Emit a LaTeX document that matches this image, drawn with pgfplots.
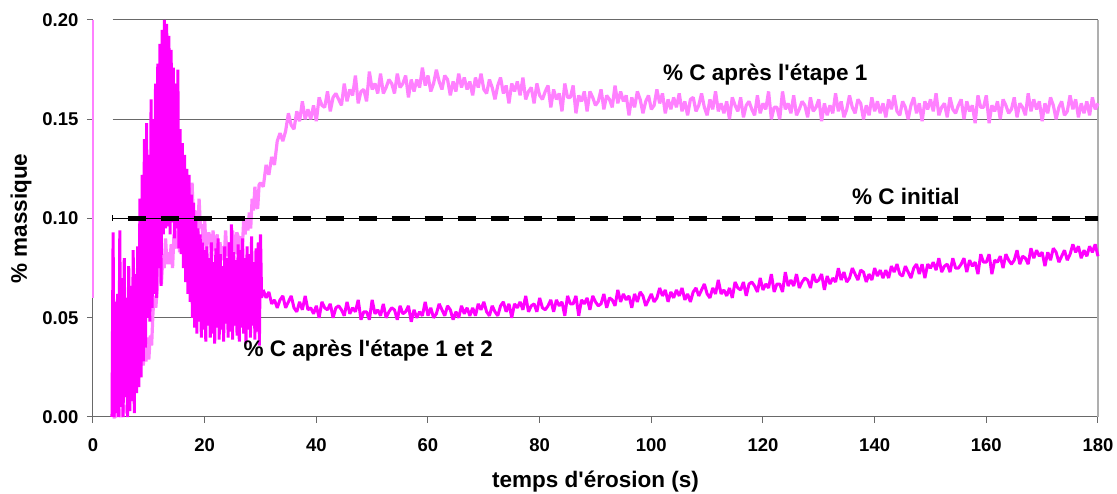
\documentclass[border=0pt]{standalone}
\usepackage{fontspec}
\setmainfont{Liberation Sans}
\usepackage{pgfplots}
\usepackage{pgfplotstable}
\pgfplotsset{compat=1.18}
\definecolor{pinkA}{RGB}{255,128,255}
\definecolor{magA}{RGB}{255,0,255}
\definecolor{gridg}{RGB}{105,105,105}
\definecolor{borderg}{RGB}{175,175,175}

\pgfplotstableread{
t y
3.5 0
4.0 0
4.5 0.006
5.0 0
5.5 0.006
6.0 0.002
6.5 0.013
7.0 0.019
7.5 0.015
8.0 0.022
8.5 0.031
9.0 0.026
9.25 0.033
9.5 0.028
9.75 0.040
10.0 0.029
10.25 0.041
10.5 0.036
10.75 0.053
11.0 0.061
11.25 0.055
11.5 0.064
11.75 0.077
12.0 0.071
12.25 0.067
12.5 0.080
12.75 0.075
13.0 0.090
13.25 0.077
13.5 0.083
13.75 0.077
14.0 0.087
14.25 0.075
14.5 0.092
14.75 0.087
15.0 0.085
15.25 0.096
15.5 0.083
15.75 0.092
16.0 0.097
16.25 0.094
16.5 0.091
16.75 0.108
17.0 0.097
17.25 0.106
17.5 0.104
17.75 0.118
18.0 0.097
18.25 0.104
18.5 0.102
18.75 0.091
19.0 0.110
19.25 0.095
19.5 0.097
19.75 0.088
20.0 0.100
20.25 0.084
20.5 0.088
20.75 0.093
21.0 0.089
21.25 0.081
21.5 0.094
21.75 0.084
22.0 0.086
22.25 0.092
22.5 0.075
22.75 0.088
23.0 0.079
23.25 0.086
23.5 0.080
23.75 0.094
24.0 0.081
24.25 0.088
24.5 0.078
24.75 0.084
25.0 0.094
25.25 0.086
25.5 0.082
25.75 0.093
26.0 0.091
26.25 0.080
26.5 0.091
26.75 0.085
27.0 0.100
27.25 0.092
27.5 0.100
27.75 0.094
28.0 0.103
28.25 0.095
28.5 0.110
28.75 0.104
29.0 0.116
29.25 0.106
29.5 0.105
29.75 0.117
30.0 0.118
30.5 0.116
31.0 0.127
31.5 0.122
32.0 0.131
32.5 0.127
33.0 0.139
33.5 0.143
34.0 0.139
34.5 0.144
35.0 0.153
35.5 0.147
36.0 0.145
36.5 0.154
37.0 0.149
37.5 0.159
38.0 0.150
38.5 0.155
39.0 0.150
39.5 0.157
40.0 0.149
40.5 0.161
41.0 0.157
41.5 0.156
42.0 0.164
42.5 0.154
43.0 0.161
43.5 0.163
44.0 0.160
44.5 0.157
45.0 0.168
45.5 0.159
46.0 0.165
46.5 0.162
47.0 0.172
47.5 0.158
48.0 0.164
48.5 0.165
49.0 0.159
49.5 0.174
50.0 0.165
50.5 0.168
51.0 0.163
51.5 0.173
52.0 0.163
52.5 0.166
53.0 0.170
53.5 0.168
54.0 0.163
54.5 0.173
55.0 0.166
55.5 0.168
56.0 0.172
56.5 0.161
57.0 0.170
57.5 0.164
58.0 0.170
58.5 0.166
59.0 0.176
59.5 0.167
60.0 0.172
60.5 0.164
61.0 0.168
61.5 0.175
62.0 0.169
62.5 0.165
63.0 0.172
63.5 0.170
64.0 0.162
64.5 0.169
65.0 0.164
65.5 0.173
66.0 0.166
66.5 0.171
67.0 0.165
67.5 0.169
68.0 0.162
68.5 0.171
69.0 0.166
69.5 0.173
70.0 0.165
70.5 0.163
71.0 0.170
71.5 0.166
72.0 0.160
72.5 0.167
73.0 0.171
73.5 0.163
74.0 0.167
74.5 0.158
75.0 0.168
75.5 0.164
76.0 0.169
76.5 0.162
77.0 0.171
77.5 0.160
78.0 0.164
78.5 0.166
79.0 0.158
79.5 0.168
80.0 0.162
80.5 0.160
81.0 0.164
81.5 0.167
82.0 0.156
82.5 0.165
83.0 0.160
83.5 0.163
84.0 0.154
84.5 0.168
85.0 0.161
85.5 0.161
86.0 0.167
86.5 0.153
87.0 0.162
87.5 0.159
88.0 0.164
88.5 0.154
89.0 0.164
89.5 0.161
90.0 0.157
90.5 0.159
91.0 0.165
91.5 0.155
92.0 0.162
92.5 0.160
93.0 0.156
93.5 0.167
94.0 0.158
94.5 0.164
95.0 0.159
95.5 0.162
96.0 0.152
96.5 0.161
97.0 0.156
97.5 0.164
98.0 0.160
98.5 0.153
99.0 0.159
99.5 0.162
100.0 0.155
100.5 0.157
101.0 0.165
101.5 0.158
102.0 0.163
102.5 0.153
103.0 0.160
103.5 0.155
104.0 0.161
104.5 0.156
105.0 0.163
105.5 0.154
106.0 0.159
106.5 0.152
107.0 0.160
107.5 0.161
108.0 0.154
108.5 0.157
109.0 0.163
109.5 0.156
110.0 0.152
110.5 0.160
111.0 0.155
111.5 0.164
112.0 0.154
112.5 0.158
113.0 0.153
113.5 0.159
114.0 0.150
114.5 0.161
115.0 0.157
115.5 0.154
116.0 0.161
116.5 0.151
117.0 0.157
117.5 0.159
118.0 0.155
118.5 0.152
119.0 0.162
119.5 0.153
120.0 0.158
120.5 0.155
121.0 0.164
121.5 0.150
122.0 0.156
122.5 0.156
123.0 0.150
123.5 0.164
124.0 0.155
124.5 0.158
125.0 0.153
125.5 0.162
126.0 0.152
126.5 0.155
127.0 0.159
127.5 0.157
128.0 0.151
128.5 0.161
129.0 0.154
129.5 0.156
130.0 0.160
130.5 0.149
131.0 0.158
131.5 0.152
132.0 0.157
132.5 0.153
133.0 0.163
133.5 0.154
134.0 0.159
134.5 0.151
135.0 0.155
135.5 0.162
136.0 0.156
136.5 0.153
137.0 0.160
137.5 0.158
138.0 0.150
138.5 0.157
139.0 0.152
139.5 0.161
140.0 0.154
140.5 0.159
141.0 0.153
141.5 0.158
142.0 0.151
142.5 0.160
143.0 0.155
143.5 0.162
144.0 0.154
144.5 0.152
145.0 0.159
145.5 0.156
146.0 0.150
146.5 0.157
147.0 0.161
147.5 0.153
148.0 0.158
148.5 0.149
149.0 0.159
149.5 0.155
150.0 0.160
150.5 0.154
151.0 0.163
151.5 0.152
152.0 0.156
152.5 0.158
153.0 0.151
153.5 0.161
154.0 0.155
154.5 0.153
155.0 0.157
155.5 0.160
156.0 0.150
156.5 0.159
157.0 0.154
157.5 0.157
158.0 0.148
158.5 0.162
159.0 0.156
159.5 0.156
160.0 0.162
160.5 0.148
161.0 0.157
161.5 0.154
162.0 0.159
162.5 0.150
163.0 0.160
163.5 0.157
164.0 0.153
164.5 0.155
165.0 0.161
165.5 0.151
166.0 0.158
166.5 0.156
167.0 0.152
167.5 0.163
168.0 0.154
168.5 0.160
169.0 0.155
169.5 0.159
170.0 0.149
170.5 0.158
171.0 0.153
171.5 0.161
172.0 0.157
172.5 0.150
173.0 0.156
173.5 0.159
174.0 0.152
174.5 0.154
175.0 0.162
175.5 0.155
176.0 0.160
176.5 0.151
177.0 0.158
177.5 0.153
178.0 0.159
178.5 0.152
179.0 0.161
179.5 0.155
180.0 0.158
}\pinkdata

\pgfplotstableread{
t y
3.4 0
3.6 0.093
3.8 0
4.0 0.058
4.2 0.002
4.4 0.062
4.6 0
4.8 0.094
5.0 0.005
5.2 0.070
5.4 0
5.6 0.080
5.8 0.010
6.0 0.060
6.2 0
6.4 0.076
6.6 0.003
6.8 0.066
7.0 0.008
7.2 0.084
7.4 0.002
7.6 0.072
7.8 0.012
8.0 0.086
8.2 0.015
8.4 0.110
8.6 0.020
8.8 0.122
9.0 0.028
9.2 0.140
9.4 0.035
9.6 0.148
9.8 0.050
10.0 0.132
10.2 0.048
10.4 0.160
10.6 0.055
10.8 0.150
11.0 0.062
11.2 0.168
11.4 0.060
11.6 0.178
11.8 0.075
12.0 0.188
12.2 0.066
12.4 0.195
12.6 0.092
12.8 0.200
13.0 0.095
13.2 0.198
13.4 0.096
13.6 0.192
13.8 0.092
14.0 0.185
14.2 0.098
14.4 0.176
14.6 0.090
14.8 0.168
15.0 0.095
15.2 0.175
15.4 0.085
15.6 0.145
15.8 0.082
16.0 0.138
16.2 0.075
16.4 0.132
16.6 0.068
16.8 0.125
17.0 0.062
17.2 0.122
17.4 0.058
17.6 0.112
17.8 0.050
18.0 0.108
18.2 0.045
18.4 0.100
18.6 0.042
18.8 0.095
19.0 0.048
19.2 0.092
19.4 0.040
19.6 0.088
19.8 0.044
20.0 0.084
20.2 0.038
20.4 0.086
20.6 0.046
20.8 0.080
21.0 0.040
21.2 0.088
21.4 0.042
21.6 0.078
21.8 0.037
22.0 0.085
22.2 0.045
22.4 0.090
22.6 0.039
22.8 0.082
23.0 0.044
23.2 0.076
23.4 0.038
23.6 0.086
23.8 0.047
24.0 0.080
24.2 0.040
24.4 0.088
24.6 0.043
24.8 0.097
25.0 0.039
25.2 0.083
25.4 0.046
25.6 0.079
25.8 0.041
26.0 0.087
26.2 0.038
26.4 0.084
26.6 0.045
26.8 0.090
27.0 0.042
27.2 0.080
27.4 0.037
27.6 0.086
27.8 0.044
28.0 0.082
28.2 0.040
28.4 0.091
28.6 0.046
28.8 0.078
29.0 0.039
29.2 0.085
29.4 0.043
29.6 0.088
29.8 0.036
30.0 0.092
30.2 0.060
30.5 0.064
31.0 0.060
31.5 0.063
32.0 0.057
32.5 0.059
33.0 0.055
33.5 0.059
34.0 0.061
34.5 0.055
35.0 0.058
35.5 0.061
36.0 0.055
36.5 0.053
37.0 0.058
37.5 0.054
38.0 0.061
38.5 0.054
39.0 0.055
39.5 0.052
40.0 0.056
40.5 0.050
41.0 0.058
41.5 0.055
42.0 0.054
42.5 0.057
43.0 0.050
43.5 0.055
44.0 0.056
44.5 0.054
45.0 0.051
45.5 0.058
46.0 0.052
46.5 0.055
47.0 0.053
47.5 0.059
48.0 0.049
48.5 0.053
49.0 0.053
49.5 0.049
50.0 0.059
50.5 0.052
51.0 0.054
51.5 0.051
52.0 0.057
52.5 0.050
53.0 0.053
53.5 0.055
54.0 0.054
54.5 0.049
55.0 0.056
55.5 0.052
56.0 0.053
56.5 0.056
57.0 0.048
57.5 0.054
58.0 0.050
58.5 0.053
59.0 0.051
59.5 0.058
60.0 0.051
60.5 0.055
61.0 0.050
61.5 0.052
62.0 0.057
62.5 0.054
63.0 0.051
63.5 0.056
64.0 0.054
64.5 0.049
65.0 0.053
65.5 0.050
66.0 0.056
66.5 0.052
67.0 0.055
67.5 0.051
68.0 0.055
68.5 0.051
69.0 0.057
69.5 0.054
70.0 0.058
70.5 0.053
71.0 0.051
71.5 0.056
72.0 0.053
72.5 0.051
73.0 0.056
73.5 0.058
74.0 0.053
74.5 0.057
75.0 0.050
75.5 0.057
76.0 0.055
76.5 0.058
77.0 0.054
77.5 0.061
78.0 0.053
78.5 0.056
79.0 0.057
79.5 0.053
80.0 0.060
80.5 0.055
81.0 0.054
81.5 0.056
82.0 0.059
82.5 0.053
83.0 0.059
83.5 0.056
84.0 0.058
84.5 0.051
85.0 0.061
85.5 0.057
86.0 0.057
86.5 0.061
87.0 0.051
87.5 0.059
88.0 0.057
88.5 0.060
89.0 0.054
89.5 0.061
90.0 0.058
90.5 0.056
91.0 0.057
91.5 0.062
92.0 0.055
92.5 0.060
93.0 0.059
93.5 0.056
94.0 0.064
94.5 0.058
95.0 0.062
95.5 0.059
96.0 0.061
96.5 0.055
97.0 0.062
97.5 0.058
98.0 0.063
98.5 0.061
99.0 0.056
99.5 0.059
100.0 0.062
100.5 0.058
101.0 0.060
101.5 0.065
102.0 0.061
102.5 0.064
103.0 0.058
103.5 0.063
104.0 0.060
104.5 0.064
105.0 0.061
105.5 0.065
106.0 0.059
106.5 0.062
107.0 0.058
107.5 0.063
108.0 0.065
108.5 0.061
109.0 0.064
109.5 0.067
110.0 0.062
110.5 0.060
111.0 0.065
111.5 0.062
112.0 0.069
112.5 0.062
113.0 0.064
113.5 0.061
114.0 0.065
114.5 0.060
115.0 0.068
115.5 0.065
116.0 0.064
116.5 0.068
117.0 0.061
117.5 0.067
118.0 0.068
118.5 0.066
119.0 0.063
119.5 0.070
120.0 0.064
120.5 0.067
121.0 0.065
121.5 0.072
122.0 0.063
122.5 0.067
123.0 0.067
123.5 0.063
124.0 0.073
124.5 0.066
125.0 0.069
125.5 0.066
126.0 0.072
126.5 0.065
127.0 0.068
127.5 0.070
128.0 0.069
128.5 0.065
129.0 0.072
129.5 0.068
130.0 0.069
130.5 0.072
131.0 0.064
131.5 0.071
132.0 0.067
132.5 0.070
133.0 0.068
133.5 0.075
134.0 0.069
134.5 0.073
135.0 0.068
135.5 0.070
136.0 0.075
136.5 0.072
137.0 0.069
137.5 0.074
138.0 0.073
138.5 0.068
139.0 0.072
139.5 0.069
140.0 0.075
140.5 0.071
141.0 0.074
141.5 0.070
142.0 0.074
142.5 0.070
143.0 0.076
143.5 0.073
144.0 0.077
144.5 0.072
145.0 0.071
145.5 0.076
146.0 0.073
146.5 0.070
147.0 0.075
147.5 0.077
148.0 0.072
148.5 0.077
149.0 0.070
149.5 0.077
150.0 0.075
150.5 0.078
151.0 0.074
151.5 0.080
152.0 0.073
152.5 0.076
153.0 0.077
153.5 0.073
154.0 0.080
154.5 0.075
155.0 0.075
155.5 0.077
156.0 0.080
156.5 0.073
157.0 0.079
157.5 0.076
158.0 0.078
158.5 0.072
159.0 0.082
159.5 0.078
160.0 0.078
160.5 0.082
161.0 0.072
161.5 0.079
162.0 0.078
162.5 0.081
163.0 0.075
163.5 0.082
164.0 0.079
164.5 0.077
165.0 0.079
165.5 0.084
166.0 0.077
166.5 0.081
167.0 0.080
167.5 0.077
168.0 0.085
168.5 0.080
169.0 0.084
169.5 0.081
170.0 0.083
170.5 0.076
171.0 0.083
171.5 0.079
172.0 0.085
172.5 0.083
173.0 0.078
173.5 0.081
174.0 0.084
174.5 0.079
175.0 0.082
175.5 0.087
176.0 0.083
176.5 0.086
177.0 0.080
177.5 0.084
178.0 0.081
178.5 0.086
179.0 0.083
179.5 0.087
180.0 0.081
}\magdata

\begin{document}
\begin{tikzpicture}
\begin{axis}[
  scale only axis,
  width=1005pt, height=397pt,
  xmin=0, xmax=180, ymin=0, ymax=0.2,
  clip=false,
  axis lines*=left,
  axis line style={gridg, line width=1pt},
  tick align=outside,
  major tick length=6pt,
  tick style={gridg, line width=1pt},
  xtick={0,20,40,60,80,100,120,140,160,180},
  ytick={0,0.05,0.1,0.15,0.2},
  minor tick num=0,
  /pgf/number format/assume math mode=true,
  yticklabel style={/pgf/number format/.cd, fixed, fixed zerofill, precision=2, /tikz/.cd, xshift=-5pt},
  xticklabel style={yshift=-12pt},
  ticklabel style={font=\fontsize{18.5}{20}\selectfont\bfseries},
  xlabel={temps d\textquotesingle érosion (s)},
  ylabel={\% massique},
  xlabel style={font=\fontsize{22.5}{24}\selectfont\bfseries, at={(axis description cs:0.5,-0.1637)}, anchor=center},
  ylabel style={font=\fontsize{22.5}{24}\selectfont\bfseries, at={(axis description cs:-0.0716,0.5)}, anchor=center, rotate=0},
]
% gridlines
\draw[gridg, line width=1pt] (axis cs:3.5,0.05) -- (axis cs:180,0.05);
\draw[gridg, line width=1pt] (axis cs:3.5,0.15) -- (axis cs:180,0.15);
\draw[gridg, line width=1pt] (axis cs:3.5,0.2) -- (axis cs:180,0.2);
\draw[borderg, line width=2pt] (axis cs:180,0) -- (axis cs:180,0.2);

\addplot[pinkA, line width=1.8pt] coordinates {(0,0.06) (0,0.2)};
\addplot[pinkA, line width=3.2pt, line join=bevel] table[x=t, y=y] {\pinkdata};
\addplot[magA, line width=3pt, line join=bevel] table[x=t, y=y] {\magdata};

\addplot[black, line width=1pt] coordinates {(3.5,0.1) (180,0.1)};
\addplot[black, line width=5pt, dash pattern=on 18pt off 15pt, dash phase=18pt] coordinates {(3.5,0.1) (180,0.1)};
\addplot[black, line width=1pt, only marks, mark=|, mark size=3pt] coordinates {(3.5,0.1)};

\node[font=\fontsize{22.5}{24}\selectfont\bfseries, anchor=base] at (axis cs:120.4,0.1694) {\% C après l\textquotesingle étape 1};
\node[font=\fontsize{22.5}{24}\selectfont\bfseries, anchor=base] at (axis cs:145.6,0.1068) {\% C initial};
\node[font=\fontsize{22.5}{24}\selectfont\bfseries, anchor=base] at (axis cs:49.3,0.0307) {\% C après l\textquotesingle étape 1 et 2};
\end{axis}
\pgfresetboundingbox
\path[use as bounding box] (-93pt,-77pt) rectangle (1024pt,417pt);
\end{tikzpicture}
\end{document}
